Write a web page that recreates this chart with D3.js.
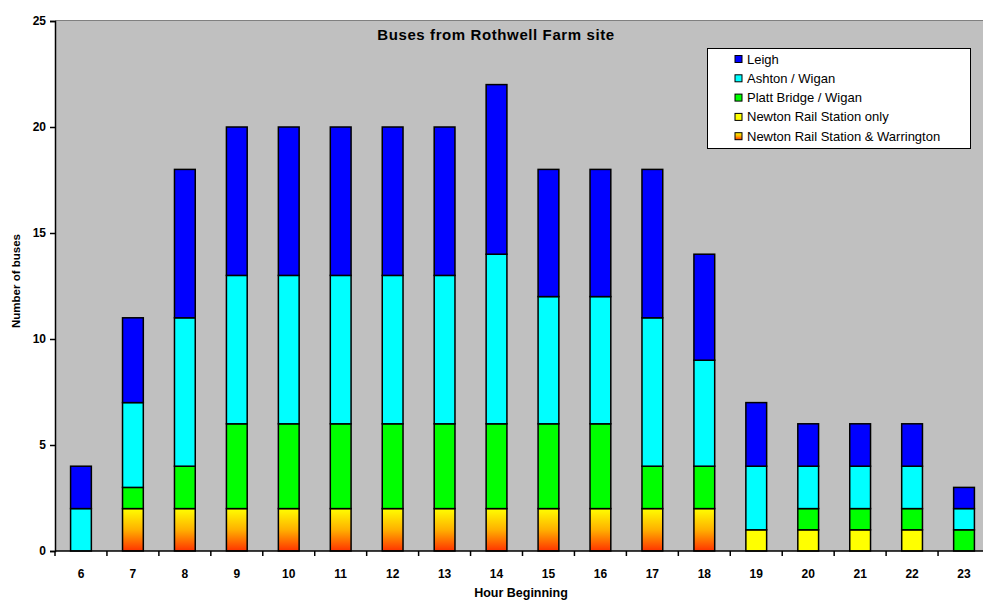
<!DOCTYPE html>
<html>
<head>
<meta charset="utf-8">
<script src="https://cdn.jsdelivr.net/npm/d3@7"></script>
<style>
  html, body { margin: 0; padding: 0; background: #ffffff; overflow: hidden; }
  svg { display: block; font-family: "Liberation Sans", Arial, sans-serif; }
</style>
</head>
<body>
<svg id="chart" width="983" height="601"></svg>
<script>
// Hours of the day (hour beginning)
const hours = ["6","7","8","9","10","11","12","13","14","15","16","17","18","19","20","21","22","23"];

// Buses per hour, by route (stacked bottom to top)
const newtonWarrington = [0,2,2,2,2,2,2,2,2,2,2,2,2,0,0,0,0,0];
const newtonOnly       = [0,0,0,0,0,0,0,0,0,0,0,0,0,1,1,1,1,0];
const plattBridge      = [0,1,2,4,4,4,4,4,4,4,4,2,2,0,1,1,1,1];
const ashtonWigan      = [2,4,7,7,7,7,7,7,8,6,6,7,5,3,2,2,2,1];
const leigh            = [2,4,7,7,7,7,7,7,8,6,6,7,5,3,2,2,2,1];

const yTicks = [0, 5, 10, 15, 20, 25];

const seriesNames = [
  "Newton Rail Station & Warrington",
  "Newton Rail Station only",
  "Platt Bridge / Wigan",
  "Ashton / Wigan",
  "Leigh"
];
const seriesValues = [newtonWarrington, newtonOnly, plattBridge, ashtonWigan, leigh];
const seriesFill = ["url(#warmGrad)", "#ffff00", "#00ff00", "#00ffff", "#0000ff"];

const rows = hours.map((h, i) => {
  const r = { hour: h };
  seriesNames.forEach((n, k) => { r[n] = seriesValues[k][i]; });
  return r;
});

const svg = d3.select("#chart");

const defs = svg.append("defs");
const grad = defs.append("linearGradient")
  .attr("id", "warmGrad").attr("x1", 0).attr("y1", 0).attr("x2", 0).attr("y2", 1);
grad.append("stop").attr("offset", "0%").attr("stop-color", "#ffff00");
grad.append("stop").attr("offset", "50%").attr("stop-color", "#ffb000");
grad.append("stop").attr("offset", "100%").attr("stop-color", "#ff3300");

const plot = { left: 55, top: 20, right: 990, bottom: 551 };

const x = d3.scaleBand()
  .domain(hours)
  .range([plot.left, plot.right])
  .paddingInner(0.6)
  .paddingOuter(0.3);

const y = d3.scaleLinear()
  .domain([0, 25])
  .range([plot.bottom, 21]);

// plot background
svg.append("rect")
  .attr("x", plot.left).attr("y", plot.top)
  .attr("width", plot.right - plot.left).attr("height", plot.bottom - plot.top)
  .attr("fill", "#c0c0c0");
svg.append("line")
  .attr("x1", plot.left).attr("x2", plot.right)
  .attr("y1", plot.top + 0.5).attr("y2", plot.top + 0.5)
  .attr("stroke", "#808080").attr("stroke-width", 1);

// stacked bars
const stack = d3.stack().keys(seriesNames);
const layers = stack(rows);

const g = svg.append("g");
layers.forEach((layer, k) => {
  g.selectAll(null)
    .data(layer)
    .join("rect")
    .attr("x", d => x(d.data.hour))
    .attr("y", d => y(d[1]))
    .attr("width", x.bandwidth())
    .attr("height", d => y(d[0]) - y(d[1]))
    .attr("fill", seriesFill[k])
    .attr("stroke", "#000")
    .attr("stroke-width", 1.5)
    .attr("visibility", d => (d[1] - d[0]) > 0 ? "visible" : "hidden");
});

// Y axis
const yAxis = d3.axisLeft(y).tickValues(yTicks).tickSize(5).tickPadding(4);
const yg = svg.append("g").attr("transform", `translate(${plot.left},0)`).call(yAxis);
yg.select(".domain").attr("stroke", "#000").attr("stroke-width", 1.5);
yg.selectAll(".tick line").attr("stroke", "#000").attr("stroke-width", 1.5);
yg.selectAll(".tick text")
  .attr("font-size", 12).attr("font-weight", "bold").attr("fill", "#000")
  .attr("font-family", "Liberation Sans, Arial, sans-serif");

// X axis (ticks between categories)
const xg = svg.append("g").attr("transform", `translate(0,${plot.bottom})`);
xg.append("line")
  .attr("x1", plot.left).attr("x2", plot.right)
  .attr("y1", 0).attr("y2", 0)
  .attr("stroke", "#000").attr("stroke-width", 1.5);
const step = x.step();
const bandStart = x(hours[0]) - x.paddingOuter() * step;
d3.range(hours.length + 1).forEach(i => {
  const tx = bandStart + i * step;
  xg.append("line")
    .attr("x1", tx).attr("x2", tx).attr("y1", 0).attr("y2", 5)
    .attr("stroke", "#000").attr("stroke-width", 1.5);
});
xg.selectAll("text.hl")
  .data(hours)
  .join("text")
  .attr("class", "hl")
  .attr("x", d => x(d) + x.bandwidth() / 2)
  .attr("y", 27)
  .attr("text-anchor", "middle")
  .attr("font-size", 12).attr("font-weight", "bold")
  .text(d => d);

// title
svg.append("text")
  .attr("x", 496).attr("y", 40)
  .attr("text-anchor", "middle")
  .attr("font-size", 15).attr("font-weight", "bold")
  .attr("letter-spacing", 0.6)
  .text("Buses from Rothwell Farm site");

// axis titles
svg.append("text")
  .attr("transform", "translate(20,281) rotate(-90)")
  .attr("text-anchor", "middle")
  .attr("font-size", 11.5).attr("font-weight", "bold")
  .text("Number of buses");
svg.append("text")
  .attr("x", 521).attr("y", 597)
  .attr("text-anchor", "middle")
  .attr("font-size", 12.5).attr("font-weight", "bold")
  .text("Hour Beginning");

// legend
const legend = svg.append("g").attr("transform", "translate(707,48)");
legend.append("rect")
  .attr("x", 0.5).attr("y", 0.5).attr("width", 263).attr("height", 100)
  .attr("fill", "#fff").attr("stroke", "#000").attr("stroke-width", 1);
const legendOrder = [4, 3, 2, 1, 0];
legendOrder.forEach((k, i) => {
  const ly = 11 + i * 19.3;
  legend.append("rect")
    .attr("x", 28).attr("y", ly - 3.5).attr("width", 7).attr("height", 7)
    .attr("fill", seriesFill[k]).attr("stroke", "#000").attr("stroke-width", 1);
  legend.append("text")
    .attr("x", 40).attr("y", ly + 4.5)
    .attr("font-size", 13)
    .text(seriesNames[k]);
});
</script>
</body>
</html>
